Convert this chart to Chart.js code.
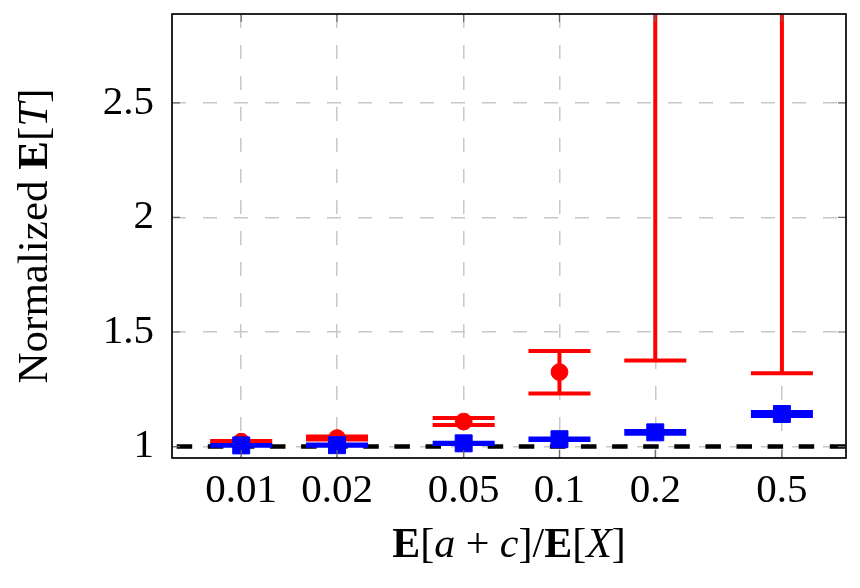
<!DOCTYPE html>
<html>
<head>
<meta charset="utf-8">
<script src="https://cdn.jsdelivr.net/npm/chart.js@4.4.1/dist/chart.umd.min.js"></script>
<style>
html, body { margin: 0; padding: 0; background: #fff; }
#wrap { width: 860px; height: 588px; }
</style>
</head>
<body>
<div id="wrap"><canvas id="chart"></canvas></div>
<script>
var ratios = [0.01, 0.02, 0.05, 0.1, 0.2, 0.5];
var yTicks = [1, 1.5, 2, 2.5];

// red: circles with error bars (0.2 and 0.5 means are above the plot)
var redMean = [1.021, 1.037, 1.109, 1.325, 3.3, 3.5];
var redLow = [1.018, 1.031, 1.094, 1.232, 1.376, 1.320];
var redHigh = [1.024, 1.044, 1.125, 1.417, 5.2, 5.7];

// blue: squares with error bars
var blueMean = [1.005, 1.006, 1.014, 1.032, 1.062, 1.142];
var blueLow = [1.003, 1.003, 1.011, 1.029, 1.056, 1.1335];
var blueHigh = [1.007, 1.009, 1.017, 1.035, 1.068, 1.1505];

var baseline = 1;
var xMin = 0.00606, xMax = 0.795;
var yMin = 0.95, yMax = 2.888;

var serif = '"Liberation Serif", "DejaVu Serif", serif';

function pts(vals) {
    return ratios.map(function(x, i) { return {x: x, y: vals[i]}; });
}

// vertical error bar with caps, drawn just before the dataset's markers
var errorBars = {
    id: 'errorBars',
    beforeDatasetDraw: function(chart, args) {
        var ds = chart.data.datasets[args.index];
        if (!ds.errLow) return;
        var xs = chart.scales.x, ys = chart.scales.y, c = chart.ctx, a = chart.chartArea;
        c.save();
        c.beginPath();
        c.rect(a.left, a.top, a.right - a.left, a.bottom - a.top);
        c.clip();
        c.strokeStyle = ds.borderColor;
        c.lineWidth = 4;
        ratios.forEach(function(r, i) {
            var px = xs.getPixelForValue(r);
            var lo = ys.getPixelForValue(ds.errLow[i]);
            var hi = ys.getPixelForValue(ds.errHigh[i]);
            c.beginPath();
            c.moveTo(px, lo); c.lineTo(px, hi);
            c.moveTo(px - 31, lo); c.lineTo(px + 31, lo);
            c.moveTo(px - 31, hi); c.lineTo(px + 31, hi);
            c.stroke();
        });
        c.restore();
    }
};

function drawRuns(c, runs, x, y, size) {
    var total = 0;
    runs.forEach(function(r) {
        c.font = r.s + ' ' + size + 'px ' + serif;
        r.w = c.measureText(r.t).width;
        total += r.w;
    });
    var cx = x - total / 2;
    runs.forEach(function(r) {
        c.font = r.s + ' ' + size + 'px ' + serif;
        c.fillText(r.t, cx, y);
        cx += r.w;
    });
}

// box, inner ticks and axis titles
var frame = {
    id: 'frame',
    afterDraw: function(chart) {
        var c = chart.ctx, a = chart.chartArea, xs = chart.scales.x, ys = chart.scales.y;
        c.save();
        c.strokeStyle = '#666';
        c.lineWidth = 1.2;
        c.beginPath();
        ratios.forEach(function(v) {
            var px = xs.getPixelForValue(v);
            c.moveTo(px, a.bottom); c.lineTo(px, a.bottom - 8);
            c.moveTo(px, a.top); c.lineTo(px, a.top + 8);
        });
        yTicks.forEach(function(v) {
            var py = ys.getPixelForValue(v);
            c.moveTo(a.left, py); c.lineTo(a.left + 8, py);
            c.moveTo(a.right, py); c.lineTo(a.right - 8, py);
        });
        c.stroke();
        c.strokeStyle = '#000';
        c.lineWidth = 1.7;
        c.strokeRect(a.left, a.top, a.right - a.left, a.bottom - a.top);

        c.fillStyle = '#000';
        c.textBaseline = 'alphabetic';
        drawRuns(c, [
            {t: 'E', s: 'bold'}, {t: '[', s: 'normal'}, {t: 'a', s: 'italic'},
            {t: '\u2005+\u2005', s: 'normal'}, {t: 'c', s: 'italic'}, {t: ']/', s: 'normal'},
            {t: 'E', s: 'bold'}, {t: '[', s: 'normal'}, {t: 'X', s: 'italic'},
            {t: ']', s: 'normal'}
        ], (a.left + a.right) / 2, 557, 42);

        c.translate(47, (a.top + a.bottom) / 2);
        c.rotate(-Math.PI / 2);
        drawRuns(c, [
            {t: 'Normalized ', s: 'normal'}, {t: 'E', s: 'bold'}, {t: '[', s: 'normal'},
            {t: 'T', s: 'italic'}, {t: ']', s: 'normal'}
        ], 0, 0, 43);
        c.restore();
    }
};

var chart = new Chart(document.getElementById('chart'), {
    type: 'scatter',
    data: {
        datasets: [{
            label: 'blue',
            data: pts(blueMean),
            errLow: blueLow,
            errHigh: blueHigh,
            borderColor: '#0000ff',
            backgroundColor: '#0000ff',
            pointStyle: 'rect',
            pointRadius: 12,
            borderWidth: 1,
            order: 0
        }, {
            label: 'baseline',
            type: 'line',
            data: [{x: xMin, y: baseline}, {x: xMax, y: baseline}],
            borderColor: '#000',
            borderWidth: 4.5,
            borderDash: [15.5, 15.6],
            borderDashOffset: 26.4,
            pointRadius: 0,
            order: 1
        }, {
            label: 'red',
            data: pts(redMean),
            errLow: redLow,
            errHigh: redHigh,
            borderColor: '#ff0000',
            backgroundColor: '#ff0000',
            pointStyle: 'circle',
            pointRadius: 8.4,
            borderWidth: 1,
            order: 2
        }]
    },
    options: {
        responsive: true,
        maintainAspectRatio: false,
        animation: false,
        layout: {padding: {top: 14, right: 14, left: 0, bottom: 0}},
        plugins: {legend: {display: false}, tooltip: {enabled: false}},
        scales: {
            x: {
                type: 'logarithmic',
                min: xMin,
                max: xMax,
                afterBuildTicks: function(s) {
                    s.ticks = ratios.map(function(v) { return {value: v}; });
                },
                afterFit: function(s) {
                    s.height = 130;
                    s.paddingLeft = 0; s.paddingRight = 0;
                },
                ticks: {
                    callback: function(v) { return String(v); },
                    font: {family: serif, size: 41},
                    color: '#000',
                    padding: 9,
                    maxRotation: 0,
                    autoSkip: false
                },
                grid: {color: '#c8c8c8', lineWidth: 1.5, drawTicks: false},
                border: {display: false, dash: [14, 17]}
            },
            y: {
                type: 'linear',
                min: yMin,
                max: yMax,
                afterBuildTicks: function(s) {
                    s.ticks = yTicks.map(function(v) { return {value: v}; });
                },
                afterFit: function(s) {
                    s.width = 172;
                    s.paddingTop = 0; s.paddingBottom = 0;
                },
                ticks: {
                    callback: function(v) { return String(v); },
                    font: {family: serif, size: 41},
                    color: '#000',
                    padding: 18
                },
                grid: {color: '#c8c8c8', lineWidth: 1.5, drawTicks: false},
                border: {display: false, dash: [14, 17]}
            }
        }
    },
    plugins: [errorBars, frame]
});
</script>
</body>
</html>
